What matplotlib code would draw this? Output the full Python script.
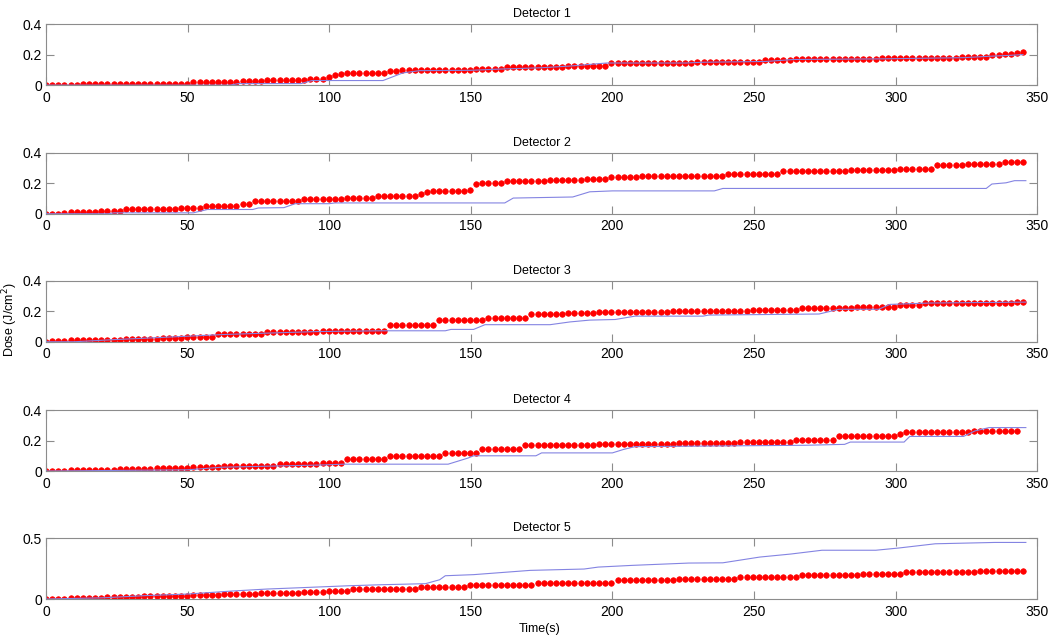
import numpy as np
import matplotlib.pyplot as plt

plt.rcParams['font.family'] = ['Liberation Sans', 'DejaVu Sans']

# measured dose (red dots), one sample every DT seconds
DT = 2.17

det1 = [0, 0, 0, 0, 0, 0, .005, .005, .005, .005,
        .005, .005, .005, .01, .01, .01, .01, .01, .01, .01,
        .01, .01, .01, .01, .02, .02, .02, .02, .02, .02,
        .02, .02, .025, .025, .025, .025, .035, .035, .035, .035,
        .035, .035, .035, .042, .042, .042, .055, .068, .074, .081,
        .081, .081, .081, .081, .081, .081, .092, .092, .099, .099,
        .099, .099, .099, .099, .099, .099, .099, .099, .099, .099,
        .107, .107, .107, .107, .107, .116, .116, .116, .116, .116,
        .116, .116, .116, .116, .116, .127, .127, .127, .127, .127,
        .127, .127, .147, .147, .147, .147, .147, .147, .147, .147,
        .147, .147, .147, .147, .147, .147, .153, .153, .153, .153,
        .153, .153, .153, .153, .153, .153, .153, .162, .162, .162,
        .162, .162, .171, .171, .171, .171, .171, .171, .171, .171,
        .171, .171, .171, .171, .171, .171, .18, .18, .18, .18,
        .18, .18, .18, .18, .18, .18, .18, .18, .18, .186,
        .186, .186, .186, .186, .195, .195, .203, .206, .21, .214]

det2 = [0, 0, 0, .006, .013, .013, .013, .013, .013, .02,
        .02, .02, .02, .028, .028, .028, .028, .028, .034, .034,
        .034, .034, .041, .041, .041, .041, .05, .05, .05, .05,
        .05, .05, .066, .066, .082, .082, .082, .082, .082, .082,
        .082, .082, .097, .097, .097, .097, .097, .097, .097, .105,
        .105, .105, .105, .105, .116, .116, .116, .116, .116, .116,
        .116, .132, .142, .15, .15, .15, .15, .15, .15, .157,
        .198, .204, .204, .204, .204, .213, .213, .213, .213, .213,
        .213, .213, .221, .221, .221, .221, .221, .221, .23, .23,
        .23, .23, .239, .239, .239, .239, .239, .25, .25, .25,
        .25, .25, .25, .25, .25, .25, .25, .25, .25, .25,
        .25, .264, .264, .264, .264, .264, .264, .264, .264, .264,
        .279, .279, .279, .279, .279, .279, .279, .279, .279, .279,
        .279, .286, .286, .286, .286, .286, .286, .286, .286, .295,
        .295, .295, .295, .295, .295, .318, .318, .318, .318, .318,
        .329, .329, .329, .329, .329, .329, .338, .338, .338, .338]

det3 = [0, .005, .005, .005, .009, .013, .013, .013, .013, .013,
        .013, .013, .013, .02, .02, .02, .02, .02, .02, .027,
        .027, .027, .027, .034, .034, .034, .034, .034, .052, .052,
        .052, .052, .052, .052, .052, .052, .063, .063, .063, .063,
        .063, .063, .063, .063, .063, .072, .072, .072, .072, .072,
        .072, .072, .072, .072, .072, .072, .108, .108, .108, .108,
        .108, .108, .108, .108, .142, .142, .142, .142, .142, .142,
        .142, .142, .157, .157, .157, .157, .157, .157, .157, .18,
        .18, .18, .18, .18, .18, .187, .187, .187, .187, .187,
        .193, .193, .193, .193, .193, .193, .193, .193, .193, .193,
        .193, .193, .2, .2, .2, .2, .2, .2, .2, .2,
        .2, .2, .2, .2, .2, .209, .209, .209, .209, .209,
        .209, .209, .209, .22, .22, .22, .22, .22, .22, .22,
        .22, .22, .231, .231, .231, .231, .231, .231, .231, .243,
        .243, .243, .243, .254, .254, .254, .254, .254, .254, .254,
        .254, .254, .254, .254, .254, .254, .254, .254, .258, .26]

det4 = [0, 0, 0, 0, .005, .005, .005, .005, .005, .005,
        .005, .005, .011, .011, .011, .011, .011, .011, .018, .018,
        .018, .018, .018, .018, .025, .025, .025, .025, .025, .036,
        .036, .036, .036, .036, .036, .036, .036, .036, .045,
        .045, .045, .045, .045, .045, .045, .056, .056, .056, .056,
        .079, .079, .079, .079, .079, .079, .079, .097, .097, .097,
        .097, .097, .097, .097, .097, .097, .119, .119, .119, .119,
        .119, .119, .142, .142, .142, .142, .142, .142, .142, .169,
        .169, .169, .169, .169, .169, .169, .169, .169, .169, .169,
        .169, .18, .18, .18, .18, .18, .18, .18, .18, .18,
        .18, .18, .18, .18, .187, .187, .187, .187, .187, .187,
        .187, .187, .187, .187, .193, .193, .193, .193, .193, .193,
        .193, .193, .193, .204, .204, .204, .204, .204, .204, .204,
        .227, .227, .227, .227, .227, .227, .227, .227, .227, .227,
        .243, .258, .258, .258, .258, .258, .258, .258, .258, .258,
        .258, .258, .265, .265, .265, .265, .265, .265, .265, .265]

det5 = [0, 0, 0, 0, .008, .008, .008, .008, .008, .008,
        .016, .016, .016, .016, .016, .016, .025, .025, .025, .025,
        .025, .025, .025, .025, .033, .033, .033, .033, .033, .041,
        .041, .041, .041, .041, .041, .049, .049, .049, .049, .049,
        .049, .049, .057, .057, .057, .057, .063, .063, .063, .063,
        .082, .082, .082, .082, .082, .082, .082, .082, .082, .082,
        .082, .096, .096, .096, .096, .096, .096, .096, .096, .112,
        .112, .112, .112, .112, .112, .112, .112, .112, .112, .112,
        .131, .131, .131, .131, .131, .131, .131, .131, .131, .131,
        .131, .131, .131, .153, .153, .153, .153, .153, .153, .153,
        .153, .153, .153, .162, .162, .162, .162, .162, .162, .162,
        .162, .162, .162, .18, .18, .18, .18, .18, .18, .18,
        .18, .18, .18, .197, .197, .197, .197, .197, .197, .197,
        .197, .197, .197, .208, .208, .208, .208, .208, .208, .208,
        .219, .219, .219, .219, .219, .219, .219, .219, .219, .219,
        .219, .219, .226, .226, .226, .226, .226, .226, .226, .226]

# simulated dose (blue line), breakpoints (time, dose)
sim1_t = [0, 65, 68, 90, 94, 119, 126, 132, 150, 160, 175, 185, 198, 226, 232,
          254, 264, 294, 324, 334, 340, 345]
sim1_v = [0, 0, .01, .01, .03, .03, .08, .095, .097, .105, .114, .125, .145, .145, .15,
          .155, .168, .172, .18, .19, .195, .2]
sim2_t = [0, 22, 24, 52, 57, 73, 75, 84, 88, 100, 102, 162, 165, 186, 192, 200,
          236, 239, 332, 334, 339, 342, 346]
sim2_v = [0, 0, .006, .006, .028, .028, .038, .04, .066, .066, .071, .071, .103, .11, .144, .15,
          .15, .166, .166, .195, .203, .217, .217]
sim3_t = [0, 10, 23, 62, 77, 96, 119, 141, 143, 151, 155, 178, 185, 192, 201, 208,
          232, 234, 273, 280, 294, 298, 312, 346]
sim3_v = [0, 0, .013, .047, .056, .067, .072, .072, .081, .081, .112, .112, .13, .142, .146, .168,
          .168, .175, .182, .213, .213, .245, .254, .26]
sim4_t = [0, 50, 62, 98, 105, 142, 149, 151, 173, 175, 200, 204, 208, 268, 282,
          284, 303, 305, 324, 328, 333, 346]
sim4_v = [0, .008, .025, .04, .045, .045, .085, .1, .1, .119, .119, .142, .16, .169, .175,
          .19, .19, .227, .227, .263, .285, .285]
sim5_t = [0, 20, 35, 50, 66, 78, 90, 107, 118, 134, 139, 141, 151, 171, 190, 195,
          207, 227, 239, 252, 263, 274, 293, 301, 314, 335, 346]
sim5_v = [0, .01, .028, .041, .066, .082, .093, .109, .117, .126, .158, .191, .2, .235, .246, .262,
          .276, .295, .297, .344, .369, .4, .4, .418, .453, .464, .464]

titles = ['Detector 1', 'Detector 2', 'Detector 3', 'Detector 4', 'Detector 5']
measured = [det1, det2, det3, det4, det5]
simulated = [(sim1_t, sim1_v), (sim2_t, sim2_v), (sim3_t, sim3_v),
             (sim4_t, sim4_v), (sim5_t, sim5_v)]
ytops = [0.4, 0.4, 0.4, 0.4, 0.5]

fig = plt.figure(figsize=(10.5, 6.4), dpi=100)
bottoms = [0.867, 0.666, 0.466, 0.264, 0.064]
grey = '#8c8c8c'

for k in range(5):
    ax = fig.add_axes([0.0438, bottoms[k], 0.944, 0.0953])
    d = np.array(measured[k])
    t = np.arange(len(d)) * DT
    ax.plot(t, d, 'o', color='#ff0000', ms=4.0, mec='#ff0000', mew=0.5, zorder=2)
    ax.plot(simulated[k][0], simulated[k][1], color='#8484e2', lw=0.8, zorder=3)
    ax.set_xlim(0, 350)
    ax.set_ylim(0, ytops[k])
    ax.set_xticks(np.arange(0, 351, 50))
    if ytops[k] == 0.5:
        ax.set_yticks([0, 0.5])
        ax.set_yticklabels(['0', '0.5'])
    else:
        ax.set_yticks([0, 0.2, 0.4])
        ax.set_yticklabels(['0', '0.2', '0.4'])
    ax.tick_params(direction='in', top=True, right=True, length=6, width=0.8,
                   color=grey, labelsize=10)
    ax.tick_params(axis='x', pad=4)
    ax.tick_params(axis='y', pad=3)
    for s in ax.spines.values():
        s.set_color(grey)
        s.set_linewidth(0.8)
    ax.set_title(titles[k], fontsize=9, pad=5)

fig.text(0.0095, 0.5, 'Dose (J/cm$^2$)', rotation=90, ha='center', va='center', fontsize=9)
fig.text(0.514, 0.008, 'Time(s)', ha='center', va='bottom', fontsize=9)

plt.savefig('out.png', dpi=100)
